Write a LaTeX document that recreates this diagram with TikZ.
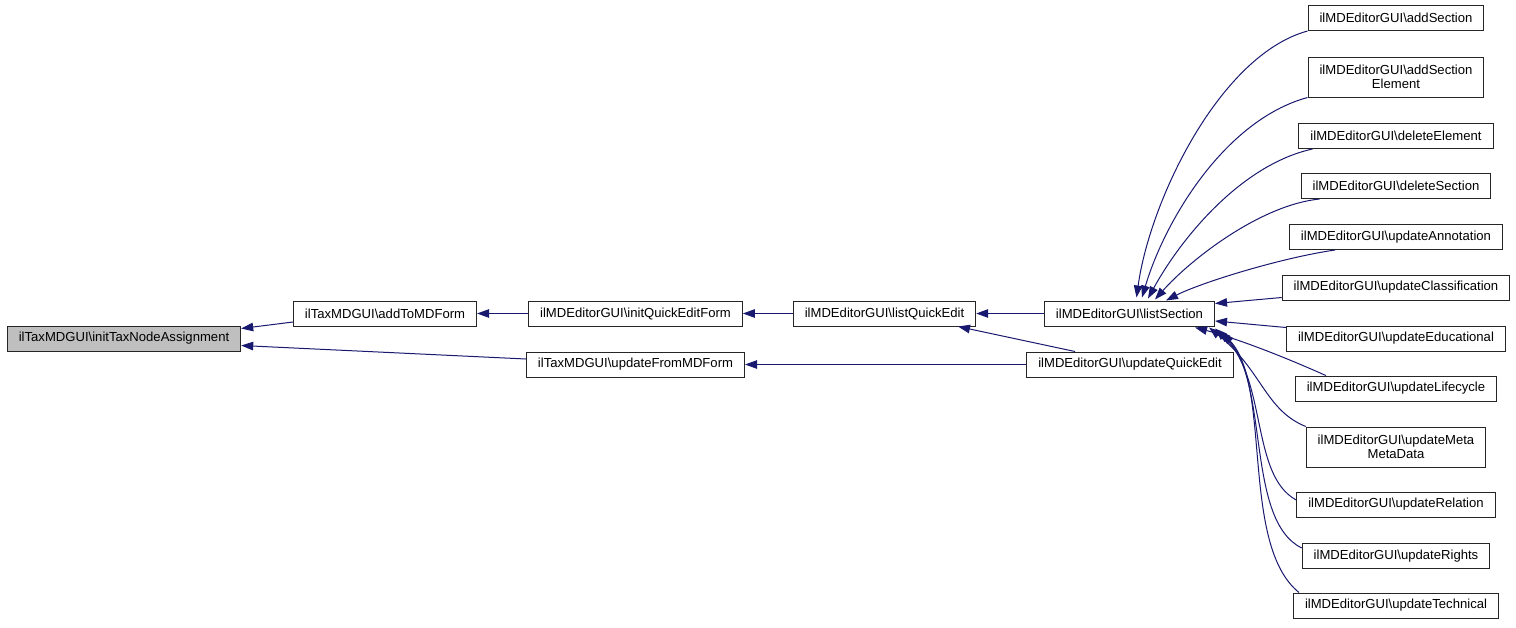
\documentclass[tikz,border=0pt]{standalone}
\usepackage{fontspec}
\setmainfont{Liberation Sans}
\usetikzlibrary{arrows.meta}
\definecolor{edgeblue}{HTML}{191970}
\definecolor{rootgray}{HTML}{BFBFBF}
\newcommand{\bs}{\textbackslash}
\begin{document}
\begin{tikzpicture}[x=1pt,y=-1pt,
  box/.style={draw=black!85, line width=1pt, fill=white, inner xsep=11.5pt, inner ysep=0pt,
    minimum height=25pt, align=center,
    font=\fontsize{13.1}{14.5}\selectfont},
  rootbox/.style={box, fill=rootgray},
  edge/.style={draw=edgeblue, line width=1pt, -{Triangle[length=12pt,width=8.5pt]}, fill=none}]
\useasboundingbox[fill=white] (0,0) rectangle (1516,627);

% left / middle nodes
\node[rootbox] (root) at (124,338.5) {ilTaxMDGUI\bs initTaxNodeAssignment};
\node[box] (addToMDForm) at (385,313.5) {ilTaxMDGUI\bs addToMDForm};
\node[box] (initQuickEditForm) at (635.5,313.5) {ilMDEditorGUI\bs initQuickEditForm};
\node[box] (updateFromMDForm) at (635.5,364.5) {ilTaxMDGUI\bs updateFromMDForm};
\node[box] (listQuickEdit) at (884.5,313.5) {ilMDEditorGUI\bs listQuickEdit};
\node[box] (listSection) at (1129.5,313.5) {ilMDEditorGUI\bs listSection};
\node[box] (updateQuickEdit) at (1130,364.5) {ilMDEditorGUI\bs updateQuickEdit};

% right column
\node[box] (addSection) at (1396,18) {ilMDEditorGUI\bs addSection};
\node[box, minimum height=40pt] (addSectionElement) at (1396,77) {ilMDEditorGUI\bs addSection\\Element};
\node[box] (deleteElement) at (1396,136) {ilMDEditorGUI\bs deleteElement};
\node[box] (deleteSection) at (1396,186) {ilMDEditorGUI\bs deleteSection};
\node[box] (updateAnnotation) at (1396,237) {ilMDEditorGUI\bs updateAnnotation};
\node[box] (updateClassification) at (1396,287.5) {ilMDEditorGUI\bs updateClassification};
\node[box] (updateEducational) at (1396,338.5) {ilMDEditorGUI\bs updateEducational};
\node[box] (updateLifecycle) at (1396,388.5) {ilMDEditorGUI\bs updateLifecycle};
\node[box, minimum height=40pt] (updateMetaMetaData) at (1396,447) {ilMDEditorGUI\bs updateMeta\\MetaData};
\node[box] (updateRelation) at (1396,504.5) {ilMDEditorGUI\bs updateRelation};
\node[box] (updateRights) at (1396,556) {ilMDEditorGUI\bs updateRights};
\node[box] (updateTechnical) at (1396,605.5) {ilMDEditorGUI\bs updateTechnical};

% left edges
\draw[edge] ([yshift=-8.5pt]addToMDForm.west) -- ([yshift=10pt]root.east);
\draw[edge] ([yshift=5.5pt]updateFromMDForm.west) -- ([yshift=-7pt]root.east);
\draw[edge] (initQuickEditForm.west) -- (addToMDForm.east);
\draw[edge] (listQuickEdit.west) -- (initQuickEditForm.east);
\draw[edge] (listSection.west) -- (listQuickEdit.east);
\draw[edge] ([xshift=-55pt]updateQuickEdit.north) -- ([xshift=73.5pt]listQuickEdit.south);
\draw[edge] (updateQuickEdit.west) -- (updateFromMDForm.east);

% right edges into listSection
\draw[edge] (addSection.south west) .. controls (1220,55) and (1150,200) .. ([xshift=7pt,yshift=3pt]listSection.north);
\draw[edge] (addSectionElement.south west) .. controls (1225,120) and (1165,220) .. ([xshift=12.5pt,yshift=3pt]listSection.north);
\draw[edge] ([xshift=14pt]deleteElement.south west) .. controls (1240,165) and (1180,240) .. ([xshift=18.5pt,yshift=2pt]listSection.north);
\draw[edge] ([xshift=19pt]deleteSection.south west) .. controls (1260,205) and (1190,260) .. ([xshift=25.5pt,yshift=1pt]listSection.north);
\draw[edge] ([xshift=46pt]updateAnnotation.south west) .. controls (1280,258) and (1200,283) .. ([xshift=36.5pt]listSection.north);
\draw[edge] ([yshift=-10pt]updateClassification.west) -- ([yshift=10pt]listSection.east);
\draw[edge] ([yshift=-2pt]updateEducational.north west) -- ([yshift=-7.5pt]listSection.east);
\draw[edge] ([xshift=31pt]updateLifecycle.north west) .. controls (1280,355) and (1235,338) .. ([xshift=-20pt,yshift=-1pt]listSection.south east);
\draw[edge] (updateMetaMetaData.north west) .. controls (1265,410) and (1262,370) .. ([xshift=-6pt,yshift=-1pt]listSection.south east);
\draw[edge] ([yshift=4.5pt]updateRelation.west) .. controls (1250,475) and (1268,378) .. ([xshift=0pt,yshift=-2pt]listSection.south east);
\draw[edge] ([yshift=-5pt]updateRights.north west) .. controls (1245,520) and (1270,382) .. ([xshift=4pt,yshift=-4pt]listSection.south east);
\draw[edge] ([xshift=6pt]updateTechnical.north west) .. controls (1240,545) and (1272,385) .. ([xshift=7pt,yshift=-6pt]listSection.south east);
\end{tikzpicture}
\end{document}
